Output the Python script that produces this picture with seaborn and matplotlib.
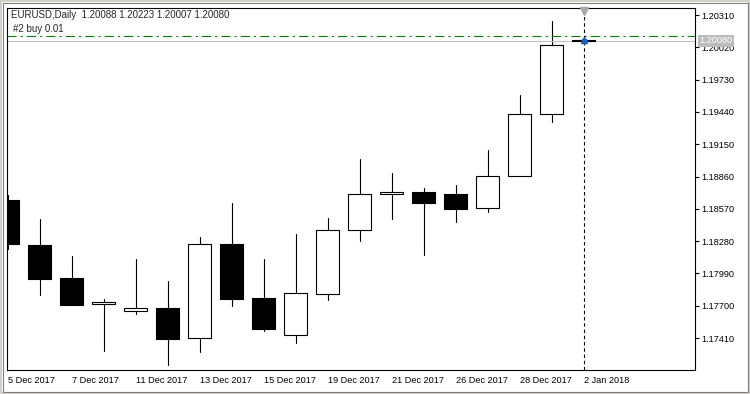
import numpy as np
import pandas as pd
import seaborn as sns
import matplotlib.pyplot as plt
import matplotlib.transforms as mtransforms
from matplotlib.patches import Rectangle

# EURUSD daily candles
dates = ['5 Dec 2017', '6 Dec 2017', '7 Dec 2017', '8 Dec 2017', '11 Dec 2017', '12 Dec 2017',
         '13 Dec 2017', '14 Dec 2017', '15 Dec 2017', '18 Dec 2017', '19 Dec 2017', '20 Dec 2017',
         '21 Dec 2017', '22 Dec 2017', '26 Dec 2017', '27 Dec 2017', '28 Dec 2017', '29 Dec 2017',
         '2 Jan 2018']
opens = [1.18649, 1.18245, 1.17949, 1.17713, 1.17650, 1.17679, 1.17407, 1.18254, 1.17769, 1.17434,
         1.17808, 1.18377, 1.18700, 1.18721, 1.18703, 1.18574, 1.18864, 1.19418, 1.20088]
highs = [1.18690, 1.18478, 1.18146, 1.17760, 1.18119, 1.17922, 1.18317, 1.18622, 1.18119, 1.18344,
         1.18487, 1.19017, 1.18891, 1.18757, 1.18784, 1.19098, 1.19592, 1.20256, 1.20223]
lows = [1.18210, 1.17796, 1.17706, 1.17296, 1.17628, 1.17170, 1.17287, 1.17700, 1.17476, 1.17368,
        1.17754, 1.18284, 1.18481, 1.18158, 1.18454, 1.18544, 1.18864, 1.19352, 1.20007]
closes = [1.18257, 1.17942, 1.17709, 1.17731, 1.17677, 1.17404, 1.18251, 1.17763, 1.17494, 1.17811,
          1.18380, 1.18703, 1.18721, 1.18625, 1.18571, 1.18864, 1.19418, 1.20041, 1.20080]
buy_price = 1.20121
order_label = '#2 buy 0.01'
y_ticks = [1.17410, 1.17700, 1.17990, 1.18280, 1.18570, 1.18860, 1.19150, 1.19440, 1.19730, 1.20020, 1.20310]

sns.set_style('white')
plt.rcParams['font.family'] = ['Liberation Sans', 'DejaVu Sans']
plt.rcParams['lines.scale_dashes'] = False

df = pd.DataFrame({'date': dates, 'open': opens, 'high': highs, 'low': lows, 'close': closes})
df['idx'] = np.arange(len(df))
n = len(df)

fig = plt.figure(figsize=(7.5, 3.94), dpi=100)
fig.patch.set_facecolor('white')
ax = fig.add_axes([7 / 750, 1 - 370 / 394, 688 / 750, 362 / 394])

# wicks (the live candle's wick sits under the cursor line)
done = df.iloc[:-1]
wicks = pd.concat([done[['idx', 'low']].rename(columns={'low': 'price'}),
                   done[['idx', 'high']].rename(columns={'high': 'price'})])
sns.lineplot(data=wicks, x='idx', y='price', units='idx', estimator=None,
             color='black', lw=0.8, ax=ax, legend=False)

# bodies
bull = df['close'] >= df['open']
ax.bar(df['idx'], (df['close'] - df['open']).abs(), bottom=df[['open', 'close']].min(axis=1),
       width=0.72, color=np.where(bull, 'white', 'black'), edgecolor='black',
       linewidth=0.8, zorder=3)

# order / bid / cursor lines
ax.axhline(buy_price, color='#008000', lw=0.8, dashes=(6.5, 3, 1.5, 3), zorder=4)
ax.axhline(df['close'].iloc[-1], color='#c0c0c0', lw=0.8, zorder=2)
ax.axvline(n - 1, color='black', lw=0.8, dashes=(2.5, 2), zorder=4)

tri = mtransforms.offset_copy(ax.transData, fig=fig, y=-3, units='dots')
ylo, yhi = 1.17123, 1.20373
ax.plot([n - 1], [yhi], marker='v', ms=5.5, color='#a8a8a8', mec='#a8a8a8',
        clip_on=False, transform=tri, zorder=6)
# trade arrow
arr = mtransforms.offset_copy(ax.transData, fig=fig, y=1, units='dots')
ax.plot([n - 1], [df['close'].iloc[-1]], marker='^', ms=4.5, color='#1565c0',
        mec='#1565c0', transform=arr, zorder=7)
ax.plot([n - 1], [df['close'].iloc[-1]], marker='s', ms=2.2, color='#1565c0',
        mec='#1565c0', zorder=7)

ax.set_xlim((7 - 7.5) / 32, (695 - 7.5) / 32)
ax.set_ylim(ylo, yhi)

ax.set_xticks(df['idx'][::2])
ax.set_xticklabels(df['date'][::2], ha='left', fontsize=6.6)
ax.yaxis.tick_right()
ax.set_yticks(y_ticks)
ax.set_yticklabels([f'{v:.5f}' for v in y_ticks], fontsize=6.6)
ax.tick_params(axis='both', direction='out', length=3, width=0.8, color='black',
               labelcolor='black', pad=1.5)
ax.tick_params(axis='x', pad=1)
ax.set_xlabel('')
ax.set_ylabel('')
for s in ax.spines.values():
    s.set_color('black')
    s.set_linewidth(0.8)

# bid price label on the scale
ax.annotate(f"{df['close'].iloc[-1]:.5f}", xy=(1, df['close'].iloc[-1]),
            xycoords=('axes fraction', 'data'), xytext=(4, 0), textcoords='offset pixels',
            ha='left', va='center', fontsize=6.6, color='white', annotation_clip=False,
            bbox=dict(boxstyle='square,pad=0.15', fc='#bcbcbc', ec='none'), zorder=8)

# header texts
last = df.iloc[-1]
fig.text(11 / 750, 1 - 15 / 394,
         f"EURUSD,Daily  {last['open']:.5f} {last['high']:.5f} {last['low']:.5f} {last['close']:.5f}",
         fontsize=7, va='center', ha='left')
fig.text(13 / 750, 1 - 29 / 394, order_label, fontsize=7, va='center', ha='left')

# window frame
fig.patches.append(Rectangle((0, 0), 1, 1, transform=fig.transFigure, fill=False,
                             ec='#d4d0c8', lw=3))
fig.patches.append(Rectangle((2.5 / 750, 2.5 / 394), 745 / 750, 389 / 394, transform=fig.transFigure,
                             fill=False, ec='#808080', lw=0.8))

fig.savefig('out.png', dpi=100)
